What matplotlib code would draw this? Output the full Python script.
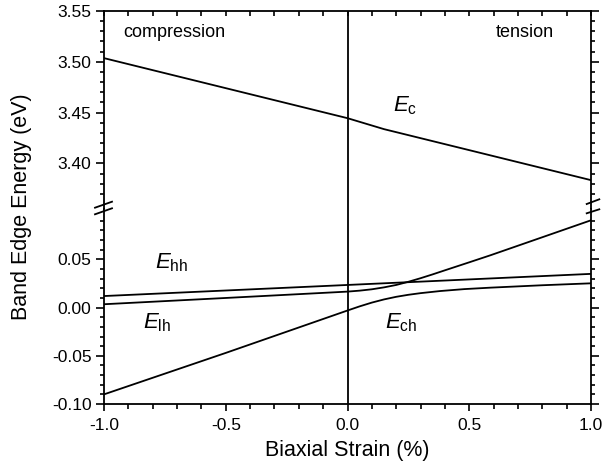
import numpy as np
import matplotlib
matplotlib.use('Agg')
import matplotlib.pyplot as plt
from matplotlib.ticker import MultipleLocator, FixedLocator
from matplotlib.lines import Line2D

plt.rcParams['font.family'] = ['Liberation Sans', 'DejaVu Sans']
plt.rcParams['mathtext.fontset'] = 'custom'
plt.rcParams['mathtext.rm'] = 'Liberation Sans'
plt.rcParams['mathtext.it'] = 'Liberation Sans:italic'

# conduction band edge (upper panel)
strain_c = [-1.0, 0.0, 0.15, 1.0]
e_c = [3.5036, 3.4445, 3.4337, 3.3835]

# heavy hole
strain_hh = [-1.0, 0.0, 1.0]
e_hh = [0.012, 0.0235, 0.035]

# light hole branch (bends up past the anticrossing)
strain_lh = [-1.0, -0.5, 0.0, 0.05, 0.1, 0.15, 0.2, 0.25, 0.3, 0.35, 0.4, 0.5, 0.587, 0.8, 1.0]
e_lh = [0.0035, 0.010, 0.0166, 0.0176, 0.0190, 0.0210, 0.0235, 0.0268, 0.0305, 0.0345,
        0.0387, 0.0470, 0.0543, 0.073, 0.0906]

# crystal-field hole branch (flattens past the anticrossing)
strain_ch = [-1.0, -0.5, 0.0, 0.05, 0.1, 0.15, 0.2, 0.25, 0.3, 0.381, 0.48, 0.587, 0.8, 1.0]
e_ch = [-0.090, -0.047, -0.003, 0.0013, 0.0052, 0.0085, 0.0112, 0.0133, 0.0150, 0.0172,
        0.0192, 0.0207, 0.0232, 0.0252]

W, H = 602, 469
fig = plt.figure(figsize=(W / 100, H / 100), dpi=100)

def px_rect(x0, y0, x1, y1):
    return [x0 / W, 1 - y1 / H, (x1 - x0) / W, (y1 - y0) / H]

ax_top = fig.add_axes(px_rect(104, 11, 591, 209))
ax_bot = fig.add_axes(px_rect(104, 209, 591, 404))

lw = 1.3
ax_top.plot(strain_c, e_c, color='black', lw=lw)
for xs, ys in [(strain_hh, e_hh), (strain_lh, e_lh), (strain_ch, e_ch)]:
    ax_bot.plot(xs, ys, color='black', lw=lw)
for ax in (ax_top, ax_bot):
    ax.axvline(0.0, color='black', lw=lw)
    ax.set_xlim(-1.0, 1.0)
    ax.xaxis.set_major_locator(MultipleLocator(0.5))
    ax.xaxis.set_minor_locator(MultipleLocator(0.1))
    for s in ax.spines.values():
        s.set_linewidth(1.3)

ax_top.set_ylim(3.3551, 3.55)
ax_bot.set_ylim(-0.10, 0.1023)

ax_top.yaxis.set_major_locator(FixedLocator([3.40, 3.45, 3.50, 3.55]))
ax_top.yaxis.set_minor_locator(FixedLocator(np.arange(3.37, 3.555, 0.01)))
ax_bot.yaxis.set_major_locator(FixedLocator([-0.10, -0.05, 0.00, 0.05]))
ax_bot.yaxis.set_minor_locator(FixedLocator(np.arange(-0.10, 0.095, 0.01)))

ax_top.yaxis.set_major_formatter(plt.FormatStrFormatter('%.2f'))
ax_bot.yaxis.set_major_formatter(plt.FormatStrFormatter('%.2f'))
ax_bot.xaxis.set_major_formatter(plt.FormatStrFormatter('%.1f'))

ax_top.spines['bottom'].set_visible(False)
ax_bot.spines['top'].set_visible(False)

# ticks: out on left/right/bottom, in on top
for ax in (ax_top, ax_bot):
    ax.tick_params(axis='y', which='both', direction='out', left=True, right=True,
                   width=1.2, labelsize=12.5, pad=3)
    ax.tick_params(axis='y', which='major', length=6)
    ax.tick_params(axis='y', which='minor', length=3.2)
ax_top.tick_params(axis='x', which='both', direction='in', top=True, bottom=False,
                   labelbottom=False, width=1.2, length=3.5)
ax_bot.tick_params(axis='x', which='both', direction='out', top=False, bottom=True,
                   width=1.2, labelsize=12.5, pad=5)
ax_bot.tick_params(axis='x', which='major', length=5)
ax_bot.tick_params(axis='x', which='minor', length=3.5)

ax_bot.set_xlabel('Biaxial Strain (%)', fontsize=15.5, labelpad=5)
fig.text(22 / W, 1 - 207 / H, 'Band Edge Energy (eV)', rotation=90,
         ha='center', va='center', fontsize=15.5)

# region labels and band labels
ax_top.text(-0.92, 3.5244, 'compression', fontsize=13)
ax_top.text(0.846, 3.5244, 'tension', fontsize=13, ha='right')
ax_top.text(0.185, 3.4507, r'$E_{\mathrm{c}}$', fontsize=16)
ax_bot.text(-0.79, 0.0408, r'$E_{\mathrm{hh}}$', fontsize=16)
ax_bot.text(-0.838, -0.0215, r'$E_{\mathrm{lh}}$', fontsize=16)
ax_bot.text(0.156, -0.0215, r'$E_{\mathrm{ch}}$', fontsize=16)

# axis break marks
for (xa, xb), (y0, y1) in [((95, 112), (207.7, 201.7)), ((95, 112), (214.3, 208.3)),
                            ((586.7, 599.3), (204.0, 199.3)), ((586.7, 599.3), (213.3, 209.3))]:
    fig.add_artist(Line2D([xa / W, xb / W], [1 - y0 / H, 1 - y1 / H],
                          transform=fig.transFigure, color='black', lw=1.3))

fig.savefig('out.png', dpi=100)
